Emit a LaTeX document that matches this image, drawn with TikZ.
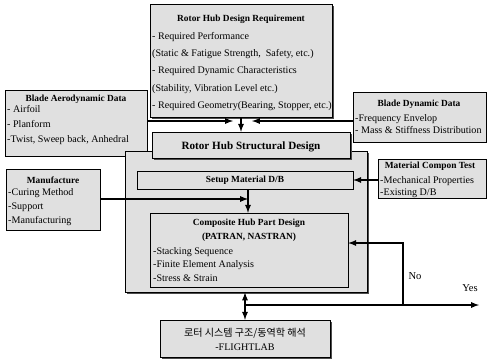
\documentclass[tikz,border=0pt]{standalone}
\usepackage{fontspec}
\setmainfont{Liberation Serif}
\newfontfamily\kor{Noto Sans CJK KR}
\usetikzlibrary{shadows}

\begin{document}
\begin{tikzpicture}[x=0.03cm,y=-0.03cm,every path/.style={>=latex},
  box/.style={draw,rectangle,fill=black!12,inner sep=0pt},
  shade/.style={drop shadow={shadow xshift=2pt,shadow yshift=-2pt,fill=black!70,opacity=1}},
  title/.style={font=\fontsize{8}{9}\selectfont\bfseries,inner sep=0pt},
  item/.style={font=\fontsize{8.6}{#1}\selectfont,align=left,anchor=west,inner sep=0pt},
  flow/.style={line width=1.3pt}]
\useasboundingbox (0,0) rectangle (488,360);
% boxes
\node[box,shade,minimum width=5.46cm,minimum height=3.39cm] (req)   at (241,60.5) {};
\node[box,minimum width=4.26cm,minimum height=1.98cm]       (aero)  at (76,123)   {};
\node[box,minimum width=3.99cm,minimum height=1.5cm]        (dyn)   at (419.5,117) {};
\node[box,shade,line width=0.8pt,minimum width=7.26cm,minimum height=4.23cm] (outer) at (246,221.5) {};
\node[box,shade,minimum width=5.94cm,minimum height=0.78cm] (struct) at (251,145) {};
\node[box,minimum width=6.48cm,minimum height=0.54cm]       (setup) at (245,180)  {};
\node[box,minimum width=5.94cm,minimum height=2.22cm]       (comp)  at (249,250)  {};
\node[box,minimum width=3.24cm,minimum height=1.17cm]       (matl)  at (432,178.5) {};
\node[box,minimum width=2.82cm,minimum height=1.83cm]       (manu)  at (53,199.5) {};
\node[box,shade,minimum width=5.1cm,minimum height=1.11cm]  (rotor) at (245,338.5) {};
% texts
\node[title] (reqT)    at (241,19)  {Rotor Hub Design Requirement};
\node[item=14.6] (reqI) at (152,71.5) {- Required Performance\\(Static \& Fatigue Strength,\ \ Safety, etc.)\\- Required Dynamic Characteristics\\(Stability, Vibration Level etc.)\\- Required Geometry(Bearing, Stopper, etc.)};
\node[title] (aeroT)   at (76,99)   {Blade Aerodynamic Data};
\node[item=12.8] (aeroI) at (7,125) {- Airfoil\\- Planform\\-Twist, Sweep back, Anhedral};
\node[title] (dynT)    at (419,104) {Blade Dynamic Data};
\node[item=10.6] (dynI) at (355,124) {-Frequency Envelop\\- Mass \& Stiffness Distribution};
\node[title,font=\fontsize{9.5}{11}\selectfont\bfseries] (structT) at (251,147) {Rotor Hub Structural Design};
\node[title] (setupT)  at (245,180) {Setup Material D/B};
\node[title,align=center,font=\fontsize{8}{11.8}\selectfont\bfseries] (compT) at (249,230) {Composite Hub Part Design\\(PATRAN, NASTRAN)};
\node[item=11.5] (compI) at (153,264.5) {-Stacking Sequence\\-Finite Element Analysis\\-Stress \& Strain};
\node[title] (matlT)   at (430,166) {Material Compon Test};
\node[item=10.2] (matlI) at (380,187) {-Mechanical Properties\\-Existing D/B};
\node[title] (manuT)   at (53,180)  {Manufacture};
\node[item=11.9] (manuI) at (8,207) {-Curing Method\\-Support\\-Manufacturing};
\node[align=center,inner sep=0pt,font=\fontsize{8.6}{12}\selectfont] (rotorT) at (245,339) {{\kor 로터 시스템 구조/동역학 해석}\\-FLIGHTLAB};
\node[inner sep=0pt,font=\fontsize{9}{10}\selectfont] (no)  at (415,276) {No};
\node[inner sep=0pt,font=\fontsize{9}{10}\selectfont] (yes) at (470,288) {Yes};
% connectors
\coordinate (reqL)  at (233,121);
\coordinate (reqR)  at (252,121);
\coordinate (setupIn) at (248,199);
\coordinate (fb)    at (246,305);
\coordinate (turn)  at (403,305);
\coordinate (noTop) at (403,243);
\coordinate (out)   at (479,305);
\draw[->,flow] (aero.east |- reqL) -- (reqL);
\draw[->,flow] (dyn.west |- reqR)  -- (reqR);
\draw[->,flow] (req.south)         -- (req.south |- struct.north);
\draw[->,flow] (manu.east |- setupIn) -- (setupIn);
\draw[->,flow] (setup.south -| setupIn) -- (comp.north -| setupIn);
\draw[->,flow] (matl.west |- setup.east) -- (setup.east);
\draw[<->,flow] (outer.south -| rotor.north) -- (rotor.north);
\draw[->,flow] (fb) -- (turn) -- (noTop) -- (comp.east |- noTop);
\draw[->,flow] (turn) -- (out);
\end{tikzpicture}
\end{document}
